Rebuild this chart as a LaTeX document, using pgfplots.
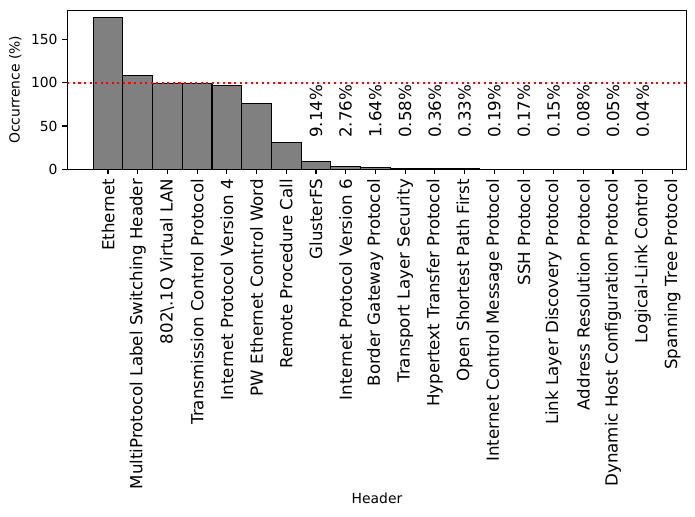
\documentclass[border=0pt]{standalone}
\usepackage{pgfplots}
\pgfplotsset{compat=1.18}
\usepackage{pgfplotstable}
\usepackage{fontspec}
\setmainfont{DejaVu Sans}
\pgfplotstableread{
x y
0 174.8
1 108.5
2 99.3
3 99.0
4 96.9
5 76.2
6 31.2
7 9.14
8 2.76
9 1.64
10 0.58
11 0.36
12 0.33
13 0.19
14 0.17
15 0.15
16 0.08
17 0.05
18 0.04
19 0.02
}\bars
\pgfplotstableread{
x y lab
7 36 9.14
8 36 2.76
9 36 1.64
10 36 0.58
11 36 0.36
12 36 0.33
13 36 0.19
14 36 0.17
15 36 0.15
16 36 0.08
17 36 0.05
18 36 0.04
}\labs
\begin{document}
\begin{tikzpicture}
\begin{axis}[
  scale only axis, width=446pt, height=114.5pt,
  xmin=-1.37, xmax=19.48, ymin=0, ymax=183.5,
  xtick={0,...,19},
  xticklabels={Ethernet,MultiProtocol Label Switching Header,802\textbackslash.1Q Virtual LAN,Transmission Control Protocol,Internet Protocol Version 4,PW Ethernet Control Word,Remote Procedure Call,GlusterFS,Internet Protocol Version 6,Border Gateway Protocol,Transport Layer Security,Hypertext Transfer Protocol,Open Shortest Path First,Internet Control Message Protocol,SSH Protocol,Link Layer Discovery Protocol,Address Resolution Protocol,Dynamic Host Configuration Protocol,Logical-Link Control,Spanning Tree Protocol},
  ytick={0,50,100,150},
  xtick pos=bottom, ytick pos=left,
  tick align=outside, major tick length=3.5pt,
  every tick/.style={black, line width=0.8pt},
  axis line style={line width=0.8pt},
  xticklabel style={rotate=90, anchor=east, font=\fontsize{12}{14}\selectfont},
  yticklabel style={font=\fontsize{10}{12}\selectfont},
  label style={font=\fontsize{10}{12}\selectfont},
  xlabel style={yshift=4pt},
  xlabel={Header}, ylabel={Occurrence (\%)},
  /pgf/number format/assume math mode=true,
]
\addplot[ybar, bar width=1, fill=gray, draw=black, line width=0.8pt] table[x=x,y=y] {\bars};
\addplot[red, line width=1.5pt, dash pattern=on 1.5pt off 2.5pt] coordinates {(-1.37,100) (19.48,100)};
\addplot[draw=none, mark=none, nodes near coords={\pgfplotspointmeta\%}, point meta=explicit symbolic,
  every node near coord/.append style={rotate=90, anchor=west, inner sep=0pt, font=\fontsize{12}{14}\selectfont}]
  table[x=x,y=y,meta=lab] {\labs};
\end{axis}
\path (-48.5pt,-250.3pt) rectangle (452pt,121.9pt);
\end{tikzpicture}
\end{document}
